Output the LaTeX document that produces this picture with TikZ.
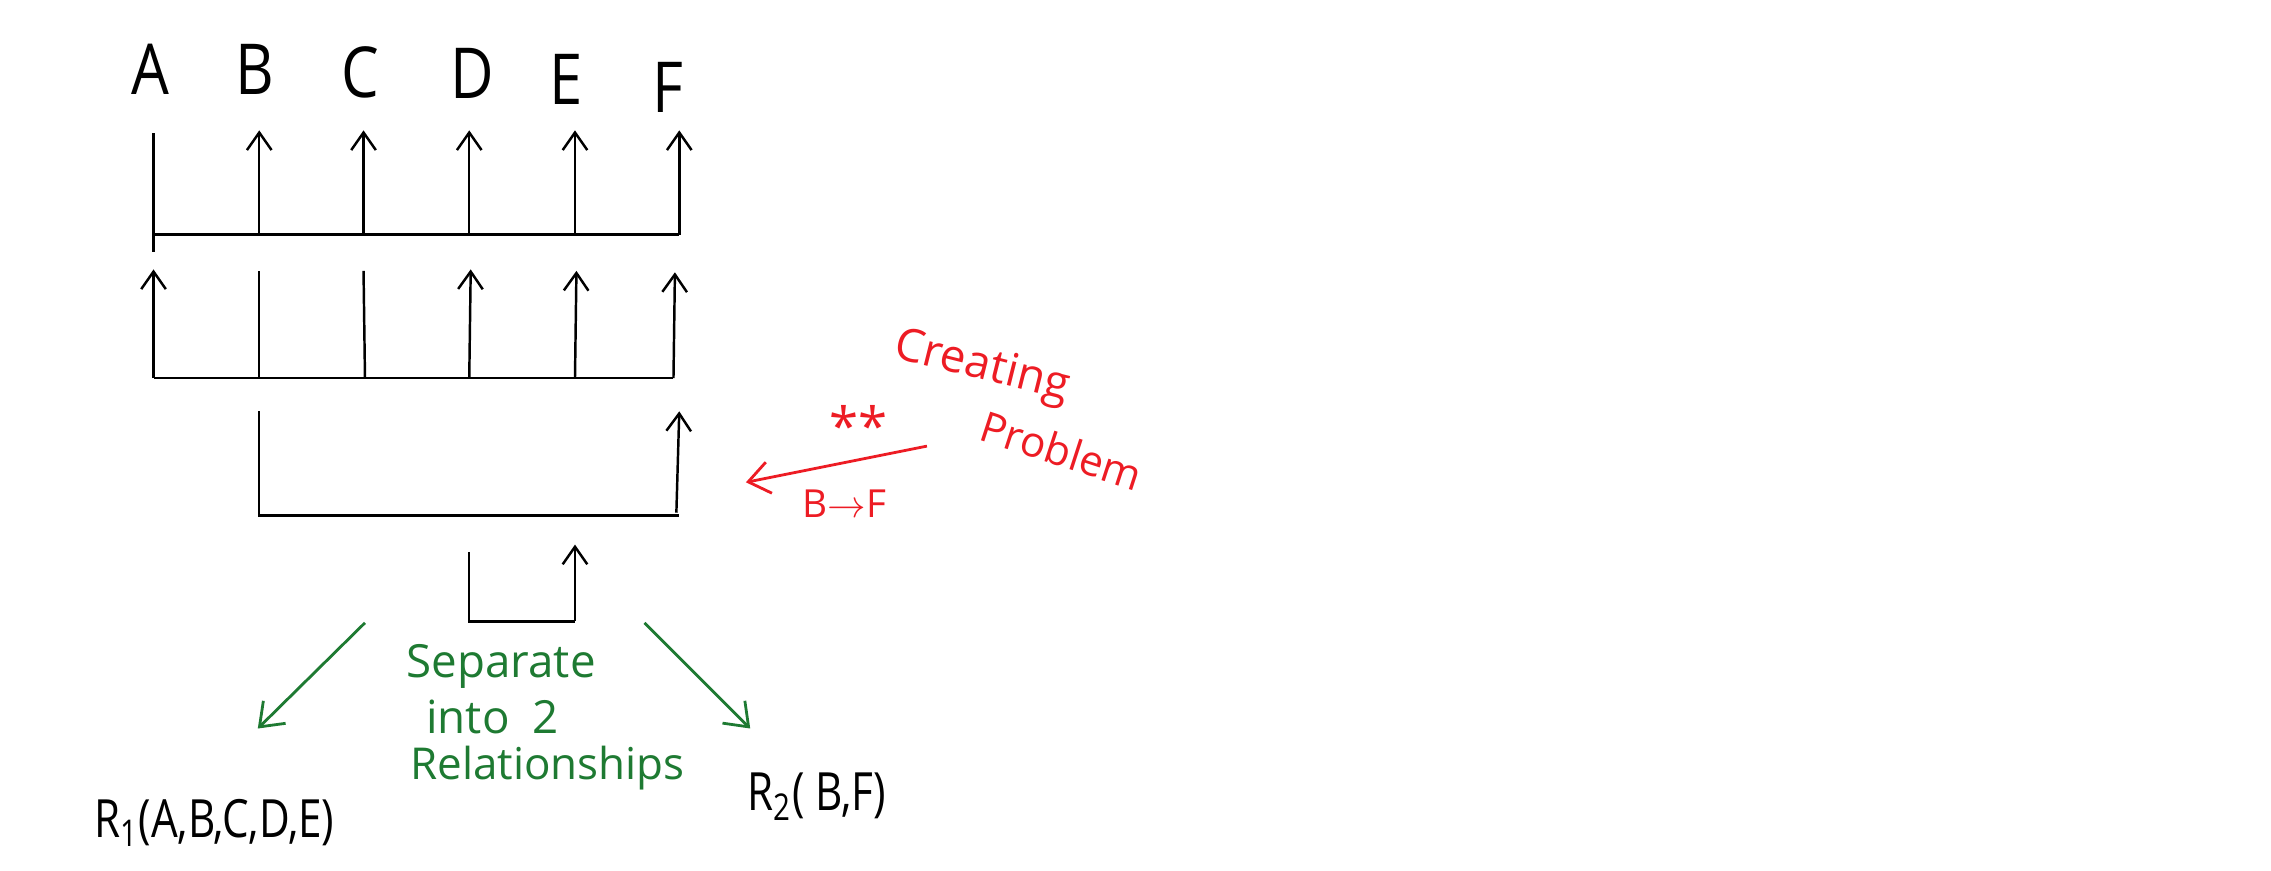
\documentclass[tikz,border=0pt]{standalone}
\usepackage{fontspec}
\setmainfont{Open Sans}
\usetikzlibrary{arrows.meta}
\definecolor{penred}{RGB}{237,28,36}
\definecolor{pengreen}{RGB}{30,122,50}
\begin{document}
\begin{tikzpicture}[x=0.014484cm,y=-0.014484cm,
  ln/.style={line width=0.7pt,black},
  up/.style={ln,-{Straight Barb[length=5pt,width=7pt]}},
  lbl/.style={font=\fontsize{20}{24}\selectfont,inner sep=0pt,xscale=0.85},
  gtxt/.style={text=pengreen,inner sep=0pt},
  garrow/.style={pengreen,line width=0.8pt,-{Straight Barb[length=6pt,width=9pt]}},
  rtxt/.style={text=penred,inner sep=0pt},
  rarrow/.style={penred,line width=0.8pt,-{Straight Barb[length=6pt,width=9pt]}},
  rel/.style={font=\fontsize{15}{18}\selectfont,inner sep=0pt,xscale=0.8}]
\useasboundingbox (0,0) rectangle (1568,601);
% column labels
\node[lbl] (A) at (104,48) {A};
\node[lbl] (B) at (176,48) {B};
\node[lbl] (C) at (249,50) {C};
\node[lbl] (D) at (326,51) {D};
\node[lbl] (E) at (391,55) {E};
\node[lbl] (F) at (461,60) {F};
% row 1
\coordinate (r1at) at (106,92);  \coordinate (r1ab) at (106,174); \coordinate (r1a) at (106,162);
\coordinate (r1bt) at (179,90);  \coordinate (r1b) at (179,162);
\coordinate (r1ct) at (251,90);  \coordinate (r1c) at (251,162);
\coordinate (r1dt) at (324,90);  \coordinate (r1d) at (324,162);
\coordinate (r1et) at (397,90);  \coordinate (r1e) at (397,162);
\coordinate (r1ft) at (469,90);  \coordinate (r1f) at (469,162);
\draw[ln] (r1at) -- (r1ab);
\draw[ln] (r1a) -- (r1f);
\draw[up] (r1b) -- (r1bt);
\draw[up] (r1c) -- (r1ct);
\draw[up] (r1d) -- (r1dt);
\draw[up] (r1e) -- (r1et);
\draw[up] (r1f) -- (r1ft);
% row 2
\coordinate (r2at) at (106,186); \coordinate (r2a) at (106,261);
\coordinate (r2bt) at (179,187); \coordinate (r2b) at (179,261);
\coordinate (r2ct) at (251,187); \coordinate (r2c) at (252,261);
\coordinate (r2dt) at (325,186); \coordinate (r2d) at (324,261);
\coordinate (r2et) at (398,187); \coordinate (r2e) at (397,261);
\coordinate (r2ft) at (466,188); \coordinate (r2f) at (465,261);
\draw[ln] (r2a) -- (r2f);
\draw[up] (r2a) -- (r2at);
\draw[ln] (r2b) -- (r2bt);
\draw[ln] (r2c) -- (r2ct);
\draw[up] (r2d) -- (r2dt);
\draw[up] (r2e) -- (r2et);
\draw[up] (r2f) -- (r2ft);
% row 3
\coordinate (r3bt) at (179,284); \coordinate (r3b) at (179,356);
\coordinate (r3f) at (469,356);  \coordinate (r3fs) at (467,354); \coordinate (r3ft) at (469,284);
\draw[ln] (r3bt) -- (r3b) -- (r3f);
\draw[up] (r3fs) -- (r3ft);
% row 4
\coordinate (r4dt) at (324,381); \coordinate (r4d) at (324,429);
\coordinate (r4e) at (397,429);  \coordinate (r4et) at (397,376);
\draw[ln] (r4dt) -- (r4d) -- (r4e);
\draw[up] (r4e) -- (r4et);
% green split arrows
\coordinate (gl0) at (252,430); \coordinate (gl1) at (178,503);
\coordinate (gr0) at (445,430); \coordinate (gr1) at (518,503);
\draw[garrow] (gl0) -- (gl1);
\draw[garrow] (gr0) -- (gr1);
\node[gtxt,font=\fontsize{13}{16}\selectfont] (sep1) at (346,460) {Separate};
\node[gtxt,font=\fontsize{13}{16}\selectfont] (sep2) at (340,495) {into\enspace 2};
\node[gtxt,font=\fontsize{12.5}{14}\selectfont] (sep3) at (378,530) {Relationships};
% results
\node[rel] (R1) at (148,568) {R\textsubscript{1}(A,B,C,D,E)};
\node[rel] (R2) at (564,550) {R\textsubscript{2}( B,F)};
% red annotation
\node[rtxt,font=\fontsize{13}{16}\selectfont,rotate=-14] (cr) at (678,254) {Creating};
\node[rtxt,font=\fontsize{12}{14}\selectfont,rotate=-18] (pr) at (733,311) {Problem};
\node[rtxt,font=\fontsize{15}{18}\selectfont] (st) at (593,294) {**};
\coordinate (ra0) at (640,308); \coordinate (ra1) at (515,333);
\draw[rarrow] (ra0) -- (ra1);
\node[rtxt,font=\fontsize{11}{13}\selectfont] (bf) at (583,348) {B$\to$F};
\end{tikzpicture}
\end{document}
